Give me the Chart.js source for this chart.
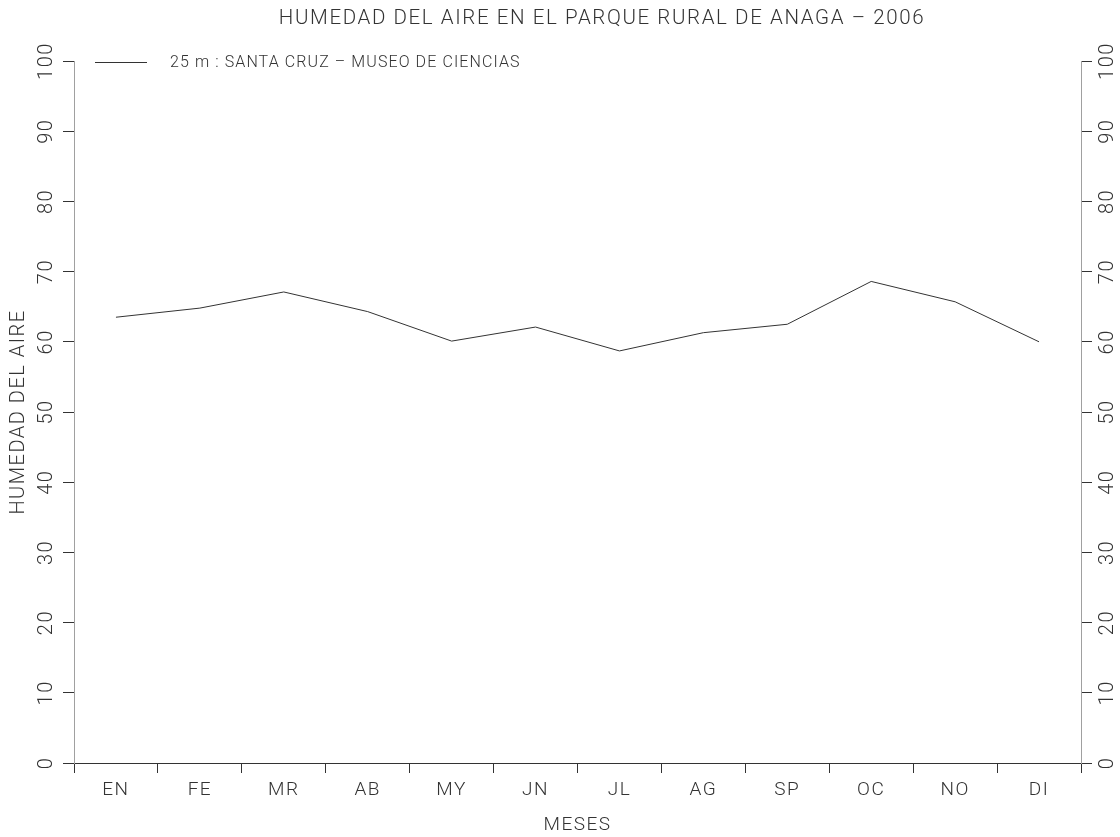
<!DOCTYPE html>
<html>
<head>
<meta charset="utf-8">
<script src="https://cdn.jsdelivr.net/npm/chart.js@4.4.1/dist/chart.umd.min.js"></script>
<style>
  html, body { margin: 0; padding: 0; background: #ffffff; }
  #wrap { width: 1120px; height: 837px; position: relative; }
</style>
</head>
<body>
<div id="wrap"><canvas id="c" width="1120" height="837"></canvas></div>
<script>
const months = ['EN', 'FE', 'MR', 'AB', 'MY', 'JN', 'JL', 'AG', 'SP', 'OC', 'NO', 'DI'];
const humidity = [63.5, 64.8, 67.1, 64.3, 60.1, 62.1, 58.7, 61.3, 62.5, 68.6, 65.7, 60.0];
const seriesLabel = '25 m : SANTA CRUZ – MUSEO DE CIENCIAS';
const chartTitle = 'HUMEDAD DEL AIRE EN EL PARQUE RURAL DE ANAGA – 2006';
const yTitle = 'HUMEDAD DEL AIRE';
const xTitle = 'MESES';
const yMin = 0, yMax = 100, yStep = 10;

const FONT = 'Roboto, "DejaVu Sans", sans-serif';
const TXT = '#333333';
const LINE = '#333333';

// wider spacing, like the plotter lettering of the original
const spacingPlugin = {
  id: 'letterSpacing',
  beforeUpdate(chart) { chart.ctx.letterSpacing = '1.5px'; },
  beforeDraw(chart) { chart.ctx.letterSpacing = '1.5px'; }
};

const titleLegendPlugin = {
  id: 'plotTitleLegend',
  afterDraw(chart) {
    const ctx = chart.ctx;
    const area = chart.chartArea;
    ctx.save();
    ctx.letterSpacing = '1.6px';
    ctx.font = '300 20.5px ' + FONT;
    ctx.fillStyle = TXT;
    ctx.textAlign = 'center';
    ctx.textBaseline = 'middle';
    ctx.fillText(chartTitle, 602, 19);
    ctx.restore();

    // legend for the single dataset
    const ds = chart.data.datasets[0];
    ctx.save();
    ctx.strokeStyle = ds.borderColor;
    ctx.lineWidth = ds.borderWidth;
    ctx.beginPath();
    ctx.moveTo(area.left + 21, area.top + 1.5);
    ctx.lineTo(area.left + 73, area.top + 1.5);
    ctx.stroke();
    ctx.letterSpacing = '1.1px';
    ctx.font = '300 16px ' + FONT;
    ctx.fillStyle = TXT;
    ctx.textAlign = 'left';
    ctx.textBaseline = 'middle';
    ctx.fillText(ds.label, area.left + 96, area.top + 2);
    ctx.restore();
  }
};

const yAxisCommon = {
  min: yMin, max: yMax,
  grid: { drawOnChartArea: false, tickLength: 11, color: LINE, lineWidth: 1 },
  border: { color: '#a0a0a0', width: 1 },
  ticks: {
    stepSize: yStep, minRotation: 90, maxRotation: 90, crossAlign: 'center',
    font: { family: FONT, size: 20, weight: '300' }, color: TXT
  }
};

new Chart(document.getElementById('c'), {
  type: 'line',
  data: {
    labels: months,
    datasets: [{
      label: seriesLabel,
      data: humidity,
      borderColor: LINE,
      borderWidth: 1,
      pointRadius: 0,
      tension: 0,
      fill: false,
      yAxisID: 'y'
    }]
  },
  options: {
    responsive: false,
    animation: false,
    layout: { padding: { top: 61, left: 0, right: 0, bottom: 0 } },
    plugins: {
      title: { display: false },
      tooltip: { enabled: false },
      legend: { display: false }
    },
    scales: {
      x: {
        type: 'category',
        offset: true,
        grid: { offset: true, drawOnChartArea: false, tickLength: 10, color: LINE },
        border: { color: LINE, width: 1 },
        ticks: { font: { family: FONT, size: 19, weight: '300' }, color: TXT, padding: 6 },
        title: { display: true, text: xTitle, font: { family: FONT, size: 19, weight: '300' }, color: TXT, padding: { top: 0, bottom: 0 } },
        afterFit(s) { s.height = 74; }
      },
      y: Object.assign({}, yAxisCommon, {
        position: 'left',
        ticks: Object.assign({}, yAxisCommon.ticks, { padding: -3 }),
        title: { display: true, text: yTitle, font: { family: FONT, size: 20, weight: '300' }, color: TXT, padding: { top: 7, bottom: 0 } },
        afterFit(s) { s.width = 74; }
      }),
      y2: Object.assign({}, yAxisCommon, {
        position: 'right',
        ticks: Object.assign({}, yAxisCommon.ticks, { padding: -2.5 }),
        afterFit(s) { s.width = 39; }
      })
    }
  },
  plugins: [spacingPlugin, titleLegendPlugin]
});
</script>
</body>
</html>
